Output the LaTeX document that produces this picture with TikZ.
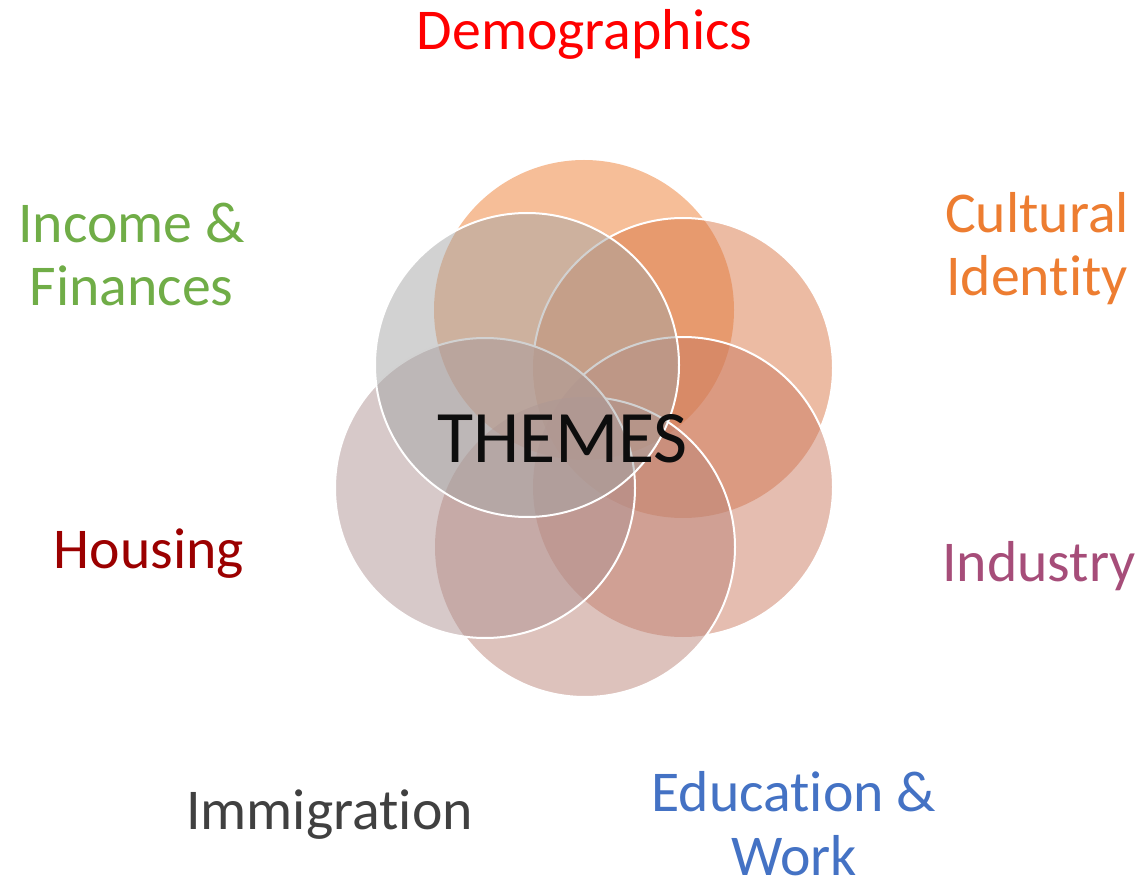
\documentclass[tikz,border=0pt]{standalone}
\usepackage{fontspec}
\setmainfont{Carlito}[Ligatures={NoCommon,NoContextual}]
\definecolor{cT}{HTML}{ED7D31}
\definecolor{cUR}{HTML}{D97747}
\definecolor{cLR}{HTML}{CB7B61}
\definecolor{cB}{HTML}{BB8579}
\definecolor{cLL}{HTML}{AF9393}
\definecolor{cUL}{HTML}{A5A5A5}
\definecolor{cDemo}{HTML}{FF0000}
\definecolor{cCult}{HTML}{ED7D31}
\definecolor{cInd}{HTML}{A64D79}
\definecolor{cEdu}{HTML}{4472C4}
\definecolor{cImm}{HTML}{404040}
\definecolor{cHous}{HTML}{9B0000}
\definecolor{cInc}{HTML}{70AD47}
\definecolor{cThemes}{HTML}{0D0D0D}
\newcommand\circR{112.5pt}
\newcommand\greyR{114pt}
\newcommand\nolig{\kern0pt }
\newcommand\outsideof[1]{\clip (-50,-50) rectangle (1200,950) (#1) circle[radius=\circR];}
\tikzset{
  petal/.style={fill=#1, fill opacity=0.5, draw=none},
  rim/.style={draw=white, line width=1.5pt},
  lbl/.style={inner sep=0pt, anchor=base, font=\fontsize{43.3}{47.5}\selectfont, align=center},
}
\begin{document}
\begin{tikzpicture}[x=0.75pt, y=-0.75pt]
\useasboundingbox (0,0) rectangle (1139,880);
\coordinate (T) at (584,310);
\coordinate (UR) at (683,368);
\coordinate (LR) at (683,487);
\coordinate (B) at (585,547);
\coordinate (LL) at (485,488);
\coordinate (UL) at (527,365);
% coloured petals
\fill[petal=cT] (T) circle[radius=\circR];
\fill[petal=cUR] (UR) circle[radius=\circR];
\fill[petal=cLR] (LR) circle[radius=\circR];
\fill[petal=cB] (B) circle[radius=\circR];
\fill[petal=cLL] (LL) circle[radius=\circR];
% white rims, hidden where a later coloured petal covers them
\begin{scope}[even odd rule]\outsideof{LR}\outsideof{B}\outsideof{LL}\draw[rim] (UR) circle[radius=\circR];\end{scope}
\begin{scope}[even odd rule]\outsideof{B}\outsideof{LL}\draw[rim] (LR) circle[radius=\circR];\end{scope}
\begin{scope}[even odd rule]\outsideof{LL}\draw[rim] (B) circle[radius=\circR];\end{scope}
\draw[rim] (LL) circle[radius=\circR];
% grey petal on top
\fill[petal=cUL] (UL) circle[radius=\greyR];
\draw[rim] (UL) circle[radius=\greyR];
% labels
\node[inner sep=0pt, anchor=base, text=cThemes, font=\fontsize{55.5}{60}\selectfont] (themes) at (562.5,463) {THEMES};
\node[lbl, text=cDemo] (demo) at (584.5,50) {Demographics};
\node[lbl, text=cCult] (cult) at (1037,296) {Cultural\\Ident\nolig ity};
\node[lbl, text=cInd] (ind) at (1039,581) {Industry};
\node[lbl, text=cEdu] (edu) at (794,875) {Educat\nolig ion \&\\Work};
\node[lbl, text=cImm] (imm) at (329.5,829) {Immigrat\nolig ion};
\node[lbl, text=cHous] (hous) at (149,568) {Housing};
\node[lbl, text=cInc] (inc) at (131.5,306) {Income \&\\Finances};
\end{tikzpicture}
\end{document}
